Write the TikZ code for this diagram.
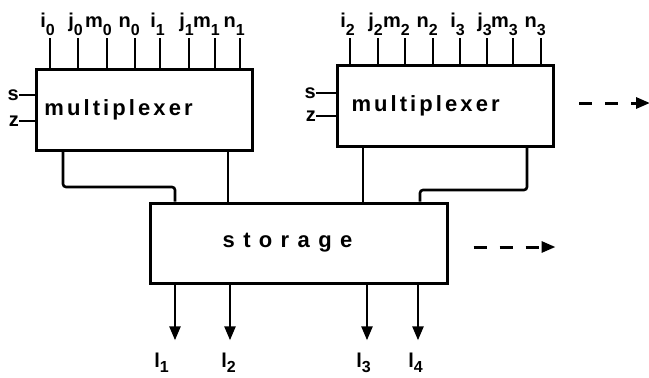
\documentclass[tikz,border=0pt]{standalone}
\usepackage{fontspec}
\setmainfont{Liberation Sans Bold}
\newfontfamily\muxfont{Liberation Sans Bold}[LetterSpace=14]
\newfontfamily\storfont{Liberation Sans Bold}[LetterSpace=38]
\usetikzlibrary{arrows.meta}

% letter with a lowered subscript
\newcommand\sublab[3][8pt]{#2\raisebox{-#1}{\fontsize{16}{16}\selectfont #3}}

\begin{document}
\begin{tikzpicture}[x=1pt,y=-1pt,
    font=\fontsize{20}{24}\selectfont,
    muxbox/.style={draw, line width=3pt, minimum height=81pt, text width=200pt,
      inner xsep=8pt, align=left, font=\fontsize{22}{26}\selectfont},
    tick/.style={line width=1.4pt},
    wire/.style={line width=2.6pt, rounded corners=3pt},
    outarrow/.style={line width=2.6pt, -{Triangle[length=14pt,width=11pt]}, shorten >=12pt},
    more/.style={line width=3pt, dash pattern=on 13pt off 13pt,
      -{Triangle[length=14pt,width=11pt]}},
    lab/.style={inner sep=0pt}]

  % Fix the page size
  \useasboundingbox (0,0) rectangle (649,378);

  % The two multiplexers and the storage
  \node[muxbox] (mux1) at (144.5,109.5) {\muxfont multiplexer};
  \node[muxbox, inner xsep=14pt, text width=188pt] (mux2) at (445.5,106) {\muxfont multiplexer};
  \node[draw, line width=3pt, minimum width=297pt, minimum height=80pt,
    font=\fontsize{22}{26}\selectfont] (stor)
    at (298.5,243) {\storfont storage\hspace*{22pt}};

  % Data inputs of the first multiplexer
  \foreach \x/\a/\b in {50/i/0, 78/j/0, 107/m/0, 135/n/0, 160/i/1, 189/j/1, 215/m/1, 240/n/1}{
    \node[lab, anchor=base east] (in-\a\b) at (\x+5,27) {\sublab{\a}{\b}};
    \draw[tick] (\x,0 |- in-\a\b.south) ++(0,3) -- (\x,0 |- mux1.north);
  }

  % Data inputs of the second multiplexer
  \foreach \x/\a/\b in {350/i/2, 378/j/2, 405/m/2, 433/n/2, 460/i/3, 487/j/3, 513/m/3, 541/n/3}{
    \node[lab, anchor=base east] (in-\a\b) at (\x+5,27) {\sublab{\a}{\b}};
    \draw[tick] (\x,0 |- in-\a\b.south) ++(0,3) -- (\x,0 |- mux2.north);
  }

  % Select inputs
  \node[lab, anchor=east] (s1) at (19,95) {s};
  \node[lab, anchor=east] (z1) at (19,121) {z};
  \node[lab, anchor=east] (s2) at (316,93) {s};
  \node[lab, anchor=east] (z2) at (316,116) {z};
  \draw[tick] (s1.east) -- (mux1.west |- s1.east);
  \draw[tick] (z1.east) -- (mux1.west |- z1.east);
  \draw[tick] (s2.east) -- (mux2.west |- s2.east);
  \draw[tick] (z2.east) -- (mux2.west |- z2.east);

  % Multiplexer outputs into the storage
  \draw[wire] (63,0 |- mux1.south) |- (175,187) -- (175,0 |- stor.north);
  \draw[wire] (228,0 |- mux1.south) -- (228,0 |- stor.north);
  \draw[wire] (363,0 |- mux2.south) -- (363,0 |- stor.north);
  \draw[wire] (527,0 |- mux2.south) |- (420,190) -- (420,0 |- stor.north);

  % Storage outputs
  \foreach \x/\n/\dx in {175/1/-6, 230/2/6, 367/3/4, 418/4/5}{
    \node[lab, anchor=base east] (out\n) at (\x+\dx,367) {\sublab[5pt]{l}{\n}};
    \draw[outarrow] (\x,0 |- stor.south) -- (\x,0 |- out\n.north);
  }

  % More of the same to the right
  \coordinate (d1) at ([xshift=24pt,yshift=3pt]mux2.east);
  \coordinate (d2) at ([xshift=25pt,yshift=-4pt]stor.east);
  \draw[more] (d1) -- ++(71,0);
  \draw[more] (d2) -- ++(82,0);
\end{tikzpicture}
\end{document}
